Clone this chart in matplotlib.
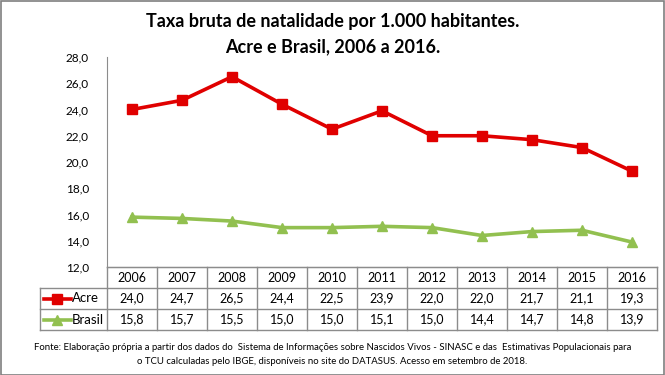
import matplotlib
matplotlib.use("Agg")
import matplotlib.pyplot as plt
from matplotlib.patches import Rectangle
from matplotlib.lines import Line2D

plt.rcParams["font.family"] = ["Lato", "DejaVu Sans"]

anos = ["2006", "2007", "2008", "2009", "2010", "2011", "2012", "2013", "2014", "2015", "2016"]
acre = [24.0, 24.7, 26.5, 24.4, 22.5, 23.9, 22.0, 22.0, 21.7, 21.1, 19.3]
brasil = [15.8, 15.7, 15.5, 15.0, 15.0, 15.1, 15.0, 14.4, 14.7, 14.8, 13.9]
y_ticks = [12, 14, 16, 18, 20, 22, 24, 26, 28]

RED = "#E00000"
GREEN = "#92C050"
GRID = "#8C8C8C"


def fmt(v):
    return f"{v:.1f}".replace(".", ",")


W, H = 665, 375
fig = plt.figure(figsize=(W / 100, H / 100), dpi=100)
fig.patches.append(Rectangle((0.5 / W, 0.5 / H), 1 - 1.5 / W, 1 - 1.5 / H,
                             transform=fig.transFigure, fill=False,
                             edgecolor="#7F7F7F", linewidth=1.2))

# plot area in pixels
left, right, top, bottom = 107, 657, 57, 267
ax = fig.add_axes([left / W, 1 - bottom / H, (right - left) / W, (bottom - top) / H])

x = list(range(len(anos)))
ax.plot(x, acre, color=RED, lw=2.6, marker="s", ms=7.5, clip_on=False, zorder=3)
ax.plot(x, brasil, color=GREEN, lw=2.6, marker="^", ms=7.5, clip_on=False, zorder=3)

ax.set_xlim(-0.5, len(anos) - 0.5)
ax.set_ylim(12, 28)
ax.set_yticks(y_ticks)
ax.set_yticklabels([fmt(v) for v in y_ticks], fontsize=8.5)
ax.tick_params(axis="y", length=0, pad=13)
ax.set_xticks([])
for s in ["top", "right"]:
    ax.spines[s].set_visible(False)
ax.spines["left"].set_color(GRID)
ax.spines["bottom"].set_color(GRID)

# data table below the plot
tr = ax.get_xaxis_transform()
row_h = 21 / (bottom - top)
leg_x0 = -0.5 - (left - 40) / ((right - left) / len(anos))
n = len(anos)
kw = dict(transform=tr, clip_on=False, color=GRID, lw=1)

for i in range(4):
    yy = -i * row_h
    x0 = -0.5 if i == 0 else leg_x0
    ax.add_line(Line2D([x0, n - 0.5], [yy, yy], **kw))
for k in range(n + 1):
    ax.add_line(Line2D([k - 0.5, k - 0.5], [0, -3 * row_h], **kw))
ax.add_line(Line2D([leg_x0, leg_x0], [-row_h, -3 * row_h], **kw))

for i, a in enumerate(anos):
    ax.text(i, -0.5 * row_h, a, transform=tr, ha="center", va="center", fontsize=9)
    ax.text(i, -1.5 * row_h, fmt(acre[i]), transform=tr, ha="center", va="center", fontsize=9)
    ax.text(i, -2.5 * row_h, fmt(brasil[i]), transform=tr, ha="center", va="center", fontsize=9)

for j, (nome, cor, mk) in enumerate([("Acre", RED, "s"), ("Brasil", GREEN, "^")]):
    yy = -(1.5 + j) * row_h
    ax.add_line(Line2D([leg_x0 + 0.08, leg_x0 + 0.62], [yy, yy], transform=tr,
                       clip_on=False, color=cor, lw=2.6))
    ax.add_line(Line2D([leg_x0 + 0.35], [yy], transform=tr, clip_on=False,
                       color=cor, marker=mk, ms=7, lw=0))
    ax.text(leg_x0 + 0.64, yy, nome, transform=tr, ha="left", va="center", fontsize=9.5)

fig.text(0.5, 1 - 22 / H, "Taxa bruta de natalidade por 1.000 habitantes.",
         ha="center", va="center", fontsize=13, fontweight="bold")
fig.text(0.5, 1 - 47 / H, "Acre e Brasil, 2006 a 2016.",
         ha="center", va="center", fontsize=13, fontweight="bold")

fig.text(0.5, 1 - 347 / H,
         "Fonte: Elaboração própria a partir dos dados do  Sistema de Informações sobre Nascidos Vivos - SINASC e das  Estimativas Populacionais para",
         ha="center", va="center", fontsize=6.9)
fig.text(0.5, 1 - 362 / H,
         "o TCU calculadas pelo IBGE, disponíveis no site do DATASUS. Acesso em setembro de 2018.",
         ha="center", va="center", fontsize=6.9)

fig.savefig("out.png", dpi=100)
